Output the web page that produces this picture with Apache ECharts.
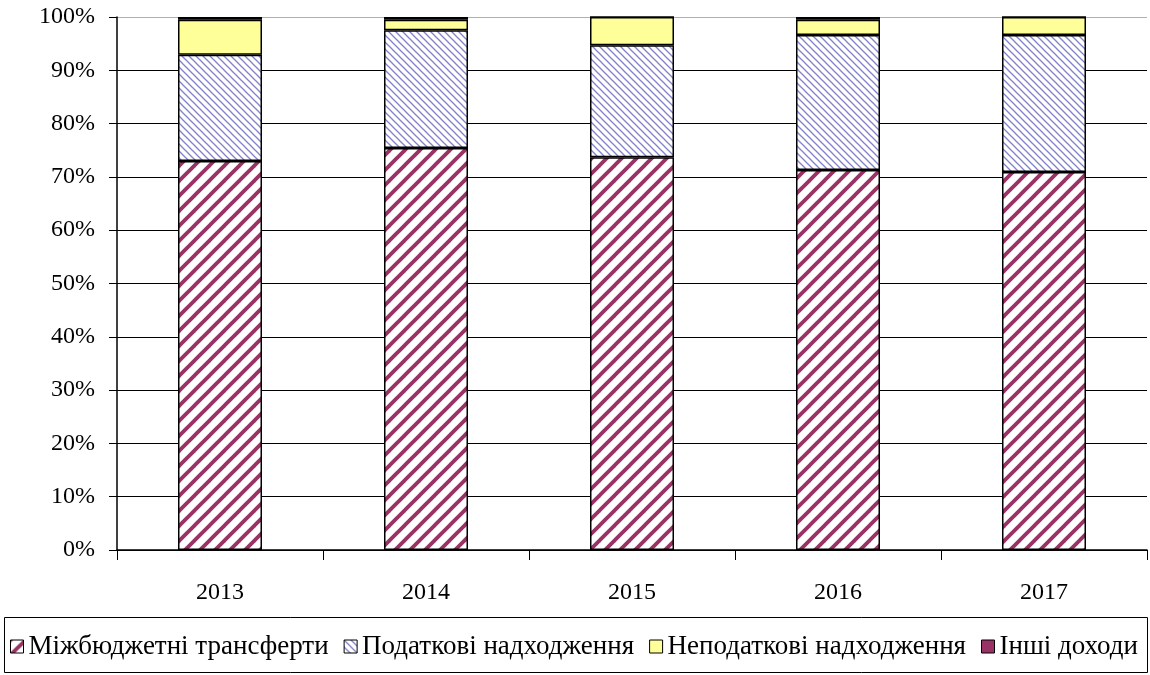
<!DOCTYPE html>
<html>
<head>
<meta charset="utf-8">
<script src="https://cdn.jsdelivr.net/npm/echarts@6/dist/echarts.min.js"></script>
<style>html,body{margin:0;padding:0;background:#fff;}#c{width:1150px;height:675px;}</style>
</head>
<body>
<div id="c"></div>
<script>
const years = ['2013', '2014', '2015', '2016', '2017'];
const transfers = [73.0, 75.4, 73.7, 71.3, 70.9];
const taxes = [19.9, 22.1, 21.0, 25.3, 25.7];
const nonTax = [6.6, 2.0, 5.3, 2.9, 3.4];
const other = [0.5, 0.5, 0.0, 0.5, 0.0];
const seriesNames = ['Міжбюджетні трансферти', 'Податкові надходження', 'Неподаткові надходження', 'Інші доходи'];
const yTicks = [0, 10, 20, 30, 40, 50, 60, 70, 80, 90, 100];

function stripe(size, color, width, dir) {
  const c = document.createElement('canvas');
  c.width = size; c.height = size;
  const g = c.getContext('2d');
  g.fillStyle = '#fff'; g.fillRect(0, 0, size, size);
  g.strokeStyle = color; g.lineWidth = width;
  for (let k = -1; k <= 1; k++) {
    g.beginPath();
    if (dir === '/') { g.moveTo(k * size - 2, size + 2); g.lineTo(k * size + size + 2, -2); }
    else { g.moveTo(k * size - 2, -2); g.lineTo(k * size + size + 2, size + 2); }
    g.stroke();
  }
  return { image: c, repeat: 'repeat' };
}
const patTransfer = stripe(15, '#993366', 3.8, '/');
const patTax = stripe(7, '#8282cc', 1.3, '\\');

const font = '"Liberation Serif", "Times New Roman", serif';
const chart = echarts.init(document.getElementById('c'));
const gridColors = yTicks.map((v, i) => i === yTicks.length - 1 ? '#b0b0b0' : '#000');
const mk = (name, data, color) => ({
  name, type: 'bar', stack: 's', data, barWidth: 84,
  itemStyle: { color, borderColor: '#000', borderWidth: 1.5 },
  emphasis: { disabled: true }
});
chart.setOption({
  animation: false,
  textStyle: { fontFamily: font },
  grid: { left: 117, right: 3, top: 17, bottom: 125 },
  graphic: [{
    type: 'rect', left: 4, top: 617, silent: true,
    shape: { width: 1143, height: 55 },
    style: { fill: '#fff', stroke: '#000', lineWidth: 1 }, z: -1
  }],
  legend: {
    top: 633, left: 10,
    padding: 0,
    icon: 'rect',
    itemWidth: 13, itemHeight: 13, itemGap: 15,
    textStyle: { fontFamily: font, fontSize: 27, color: '#000' },
    data: seriesNames.map(n => ({ name: n, itemStyle: { borderColor: '#000', borderWidth: 1 } }))
  },
  xAxis: {
    type: 'category', data: years,
    axisLine: { lineStyle: { color: '#000', width: 1.5 } },
    axisTick: { show: true, length: 10, lineStyle: { color: '#000', width: 1 } },
    axisLabel: { fontFamily: font, fontSize: 24, color: '#000', margin: 31 }
  },
  yAxis: {
    type: 'value', min: 0, max: 100, interval: 10,
    axisLine: { show: true, lineStyle: { color: '#000', width: 1.5 } },
    axisTick: { show: true, length: 8, lineStyle: { color: '#000' } },
    axisLabel: { formatter: '{value}%', fontFamily: font, fontSize: 24, color: '#000', margin: 22 },
    splitLine: { lineStyle: { color: gridColors, width: 1.2 } }
  },
  series: [
    mk(seriesNames[0], transfers, patTransfer),
    mk(seriesNames[1], taxes, patTax),
    mk(seriesNames[2], nonTax, '#ffff99'),
    mk(seriesNames[3], other, '#993366')
  ]
});
</script>
</body>
</html>
